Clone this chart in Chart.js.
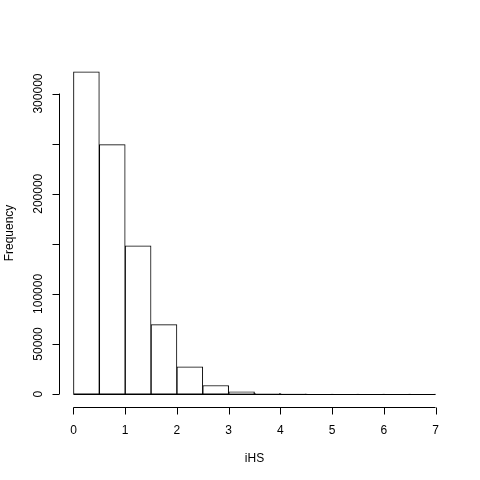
<!DOCTYPE html>
<html>
<head>
<meta charset="utf-8">
<script src="https://cdn.jsdelivr.net/npm/chart.js@4"></script>
<style>
html,body{margin:0;padding:0;background:#fff;}
#wrap{width:480px;height:480px;}
</style>
</head>
<body>
<div id="wrap"><canvas id="c" width="480" height="480"></canvas></div>
<script>
// Histogram bin edges (iHS) and counts
const breaks = [0, 0.5, 1, 1.5, 2, 2.5, 3, 3.5, 4, 4.5, 5, 5.5, 6, 6.5, 7];
const counts = [321600, 249000, 148000, 69300, 27300, 8600, 2300, 700, 250, 100, 40, 15, 6, 2];
const xTicks = [0, 1, 2, 3, 4, 5, 6, 7];
const xTickLabels = ["0", "1", "2", "3", "4", "5", "6", "7"];
const yTicks = [0, 50000, 100000, 150000, 200000, 250000, 300000];
const yTickLabels = ["0", "50000", "100000", "", "200000", "", "300000"];
const xTitle = "iHS";
const yTitle = "Frequency";

const xMin = breaks[0], xMax = breaks[breaks.length - 1];
const yMaxData = Math.max(...counts);
const xPad = (xMax - xMin) * 0.04;
const yPad = yMaxData * 0.04;

const FONT = '12px "Liberation Sans", Arial, Helvetica, sans-serif';

const rAxes = {
  id: 'rAxes',
  afterDraw(chart) {
    const ctx = chart.ctx;
    const xs = chart.scales.x, ys = chart.scales.y;
    const area = chart.chartArea;
    ctx.save();
    ctx.strokeStyle = '#000';
    ctx.fillStyle = '#000';
    ctx.lineWidth = 1;
    ctx.font = FONT;
    // baseline of bins (bottom edges of rectangles)
    const y0 = Math.round(ys.getPixelForValue(0)) + 0.5;
    ctx.beginPath();
    ctx.moveTo(xs.getPixelForValue(xMin), y0);
    ctx.lineTo(xs.getPixelForValue(xMax), y0);
    ctx.stroke();
    // x axis
    const ax = Math.round(area.bottom) + 0.5;
    ctx.beginPath();
    ctx.moveTo(xs.getPixelForValue(xTicks[0]), ax);
    ctx.lineTo(xs.getPixelForValue(xTicks[xTicks.length - 1]), ax);
    xTicks.forEach(t => {
      const px = Math.round(xs.getPixelForValue(t)) + 0.5;
      ctx.moveTo(px, ax);
      ctx.lineTo(px, ax + 7);
    });
    ctx.stroke();
    ctx.textAlign = 'center';
    ctx.textBaseline = 'middle';
    xTicks.forEach((t, i) => {
      ctx.fillText(xTickLabels[i], xs.getPixelForValue(t), ax + 23);
    });
    // y axis
    const ay = Math.round(area.left) + 0.5;
    ctx.beginPath();
    ctx.moveTo(ay, ys.getPixelForValue(yTicks[0]));
    ctx.lineTo(ay, ys.getPixelForValue(yTicks[yTicks.length - 1]));
    yTicks.forEach(t => {
      const py = Math.round(ys.getPixelForValue(t)) + 0.5;
      ctx.moveTo(ay, py);
      ctx.lineTo(ay - 7, py);
    });
    ctx.stroke();
    yTicks.forEach((t, i) => {
      if (!yTickLabels[i]) return;
      ctx.save();
      ctx.translate(ay - 20.5, ys.getPixelForValue(t));
      ctx.rotate(-Math.PI / 2);
      ctx.fillText(yTickLabels[i], 0, 0);
      ctx.restore();
    });
    // titles
    ctx.fillText(xTitle, (area.left + area.right) / 2, 459);
    ctx.save();
    ctx.translate(10, (area.top + area.bottom) / 2);
    ctx.rotate(-Math.PI / 2);
    ctx.fillText(yTitle, 0, 0);
    ctx.restore();
    ctx.restore();
  }
};

new Chart(document.getElementById('c'), {
  type: 'bar',
  data: {
    datasets: [{
      data: counts.map((c, i) => ({ x: (breaks[i] + breaks[i + 1]) / 2, y: c })),
      backgroundColor: '#ffffff',
      borderColor: '#000000',
      borderWidth: 1,
      borderSkipped: false,
      barPercentage: 1,
      categoryPercentage: 1
    }]
  },
  options: {
    responsive: false,
    animation: false,
    devicePixelRatio: 1,
    layout: { padding: { left: 59, right: 30, top: 59, bottom: 73 } },
    plugins: { legend: { display: false }, tooltip: { enabled: false } },
    scales: {
      x: { type: 'linear', display: false, min: xMin - xPad, max: xMax + xPad, offset: false },
      y: { type: 'linear', display: false, min: -yPad, max: yMaxData + yPad }
    }
  },
  plugins: [rAxes]
});
</script>
</body>
</html>
